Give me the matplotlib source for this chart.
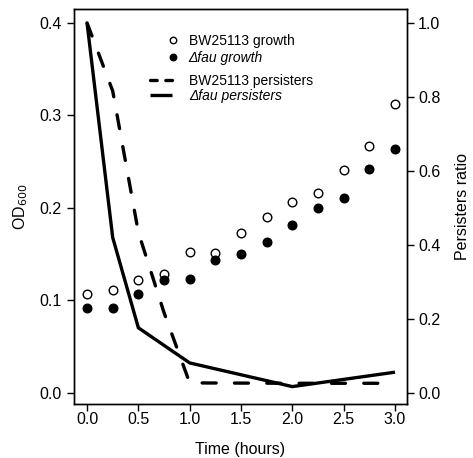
import matplotlib
matplotlib.use("Agg")
import matplotlib.pyplot as plt

plt.rcParams['font.family'] = ['Liberation Sans', 'DejaVu Sans']

# ---- data ----
growth_time = [0.0, 0.25, 0.5, 0.75, 1.0, 1.25, 1.5, 1.75, 2.0, 2.25, 2.5, 2.75, 3.0]
bw_growth = [0.107, 0.111, 0.122, 0.128, 0.152, 0.151, 0.173, 0.190, 0.206, 0.216, 0.241, 0.267, 0.312]
fau_growth = [0.092, 0.092, 0.107, 0.122, 0.123, 0.144, 0.150, 0.163, 0.181, 0.200, 0.211, 0.242, 0.264]

bw_pers_time = [0.0, 0.25, 0.5, 0.75, 1.0, 2.0, 3.0]
bw_persisters = [1.0, 0.816, 0.434, 0.217, 0.027, 0.026, 0.026]
fau_pers_time = [0.0, 0.25, 0.5, 1.0, 2.0, 3.0]
fau_persisters = [1.0, 0.42, 0.176, 0.081, 0.017, 0.056]

x_ticks = [0.0, 0.5, 1.0, 1.5, 2.0, 2.5, 3.0]
od_ticks = [0.0, 0.1, 0.2, 0.3, 0.4]
ratio_ticks = [0.0, 0.2, 0.4, 0.6, 0.8, 1.0]

W, H = 473, 458
fig = plt.figure(figsize=(W / 100, H / 100), dpi=100)
ax = fig.add_axes([74 / W, 1 - 404 / H, (407 - 74) / W, (404 - 9) / H])
ax2 = ax.twinx()

ylo, yhi = -0.012, 0.415
ax.set_ylim(ylo, yhi)
ax2.set_ylim(ylo * 2.5, yhi * 2.5)
ax.set_xlim(-0.127, 3.117)

ms = 6.2
p1, = ax.plot(growth_time, bw_growth, 'o', mfc='white', mec='black', mew=1.0, ms=ms, zorder=3)
p2, = ax.plot(growth_time, fau_growth, 'o', mfc='black', mec='black', mew=1.0, ms=ms, zorder=3)

l1, = ax2.plot(bw_pers_time, bw_persisters, color='black', lw=2.4, dashes=(4.2, 5.5),
               dash_capstyle='round', solid_joinstyle='round')
l2, = ax2.plot(fau_pers_time, fau_persisters, color='black', lw=2.4,
               solid_capstyle='butt', solid_joinstyle='miter')

ax.set_xticks(x_ticks)
ax.set_xticklabels([f"{t:.1f}" for t in x_ticks])
ax.set_yticks(od_ticks)
ax.set_yticklabels([f"{t:.1f}" for t in od_ticks])
ax2.set_yticks(ratio_ticks)
ax2.set_yticklabels([f"{t:.1f}" for t in ratio_ticks])

for a in (ax, ax2):
    for s in a.spines.values():
        s.set_linewidth(1.0)
ax.tick_params(axis='both', direction='out', length=5, width=1.0, labelsize=11.5)
ax.tick_params(axis='x', pad=1)
ax.tick_params(axis='y', pad=4)
ax2.tick_params(axis='y', direction='out', length=5, width=1.0, labelsize=11.5, pad=3)

ax.set_xlabel("Time (hours)", fontsize=11.5)
ax.set_ylabel("OD$_{600}$", fontsize=11.5)
ax2.set_ylabel("Persisters ratio", fontsize=11.5)
ax.xaxis.set_label_coords((240 - 74) / (407 - 74), (404 - 442) / (404 - 9))
ax.yaxis.set_label_coords((30 - 74) / (407 - 74), 0.5)
ax2.yaxis.set_label_coords((455 - 74) / (407 - 74), 0.5)

leg1 = ax2.legend([p1, p2], ["BW25113 growth", "\u0394fau growth"], loc='upper left',
                  bbox_to_anchor=(167 / W, 1 - 34 / H), bbox_transform=fig.transFigure,
                  frameon=False, fontsize=10, borderpad=0, borderaxespad=0, markerscale=0.75,
                  handlelength=0.8, handletextpad=0.75, labelspacing=0.22)
leg1.get_texts()[1].set_fontstyle('italic')
ax2.add_artist(leg1)
leg2 = ax2.legend([l1, l2], ["BW25113 persisters", "\u0394fau persisters"], loc='upper left',
                  bbox_to_anchor=(150 / W, 1 - 74 / H), bbox_transform=fig.transFigure,
                  frameon=False, fontsize=10, borderpad=0, borderaxespad=0,
                  handlelength=1.6, handletextpad=1.2, labelspacing=0.09)
leg2.get_texts()[1].set_fontstyle('italic')
leg2.get_lines()[0].set_dashes((2.0, 2.6))

fig.savefig("out.png", dpi=100)
